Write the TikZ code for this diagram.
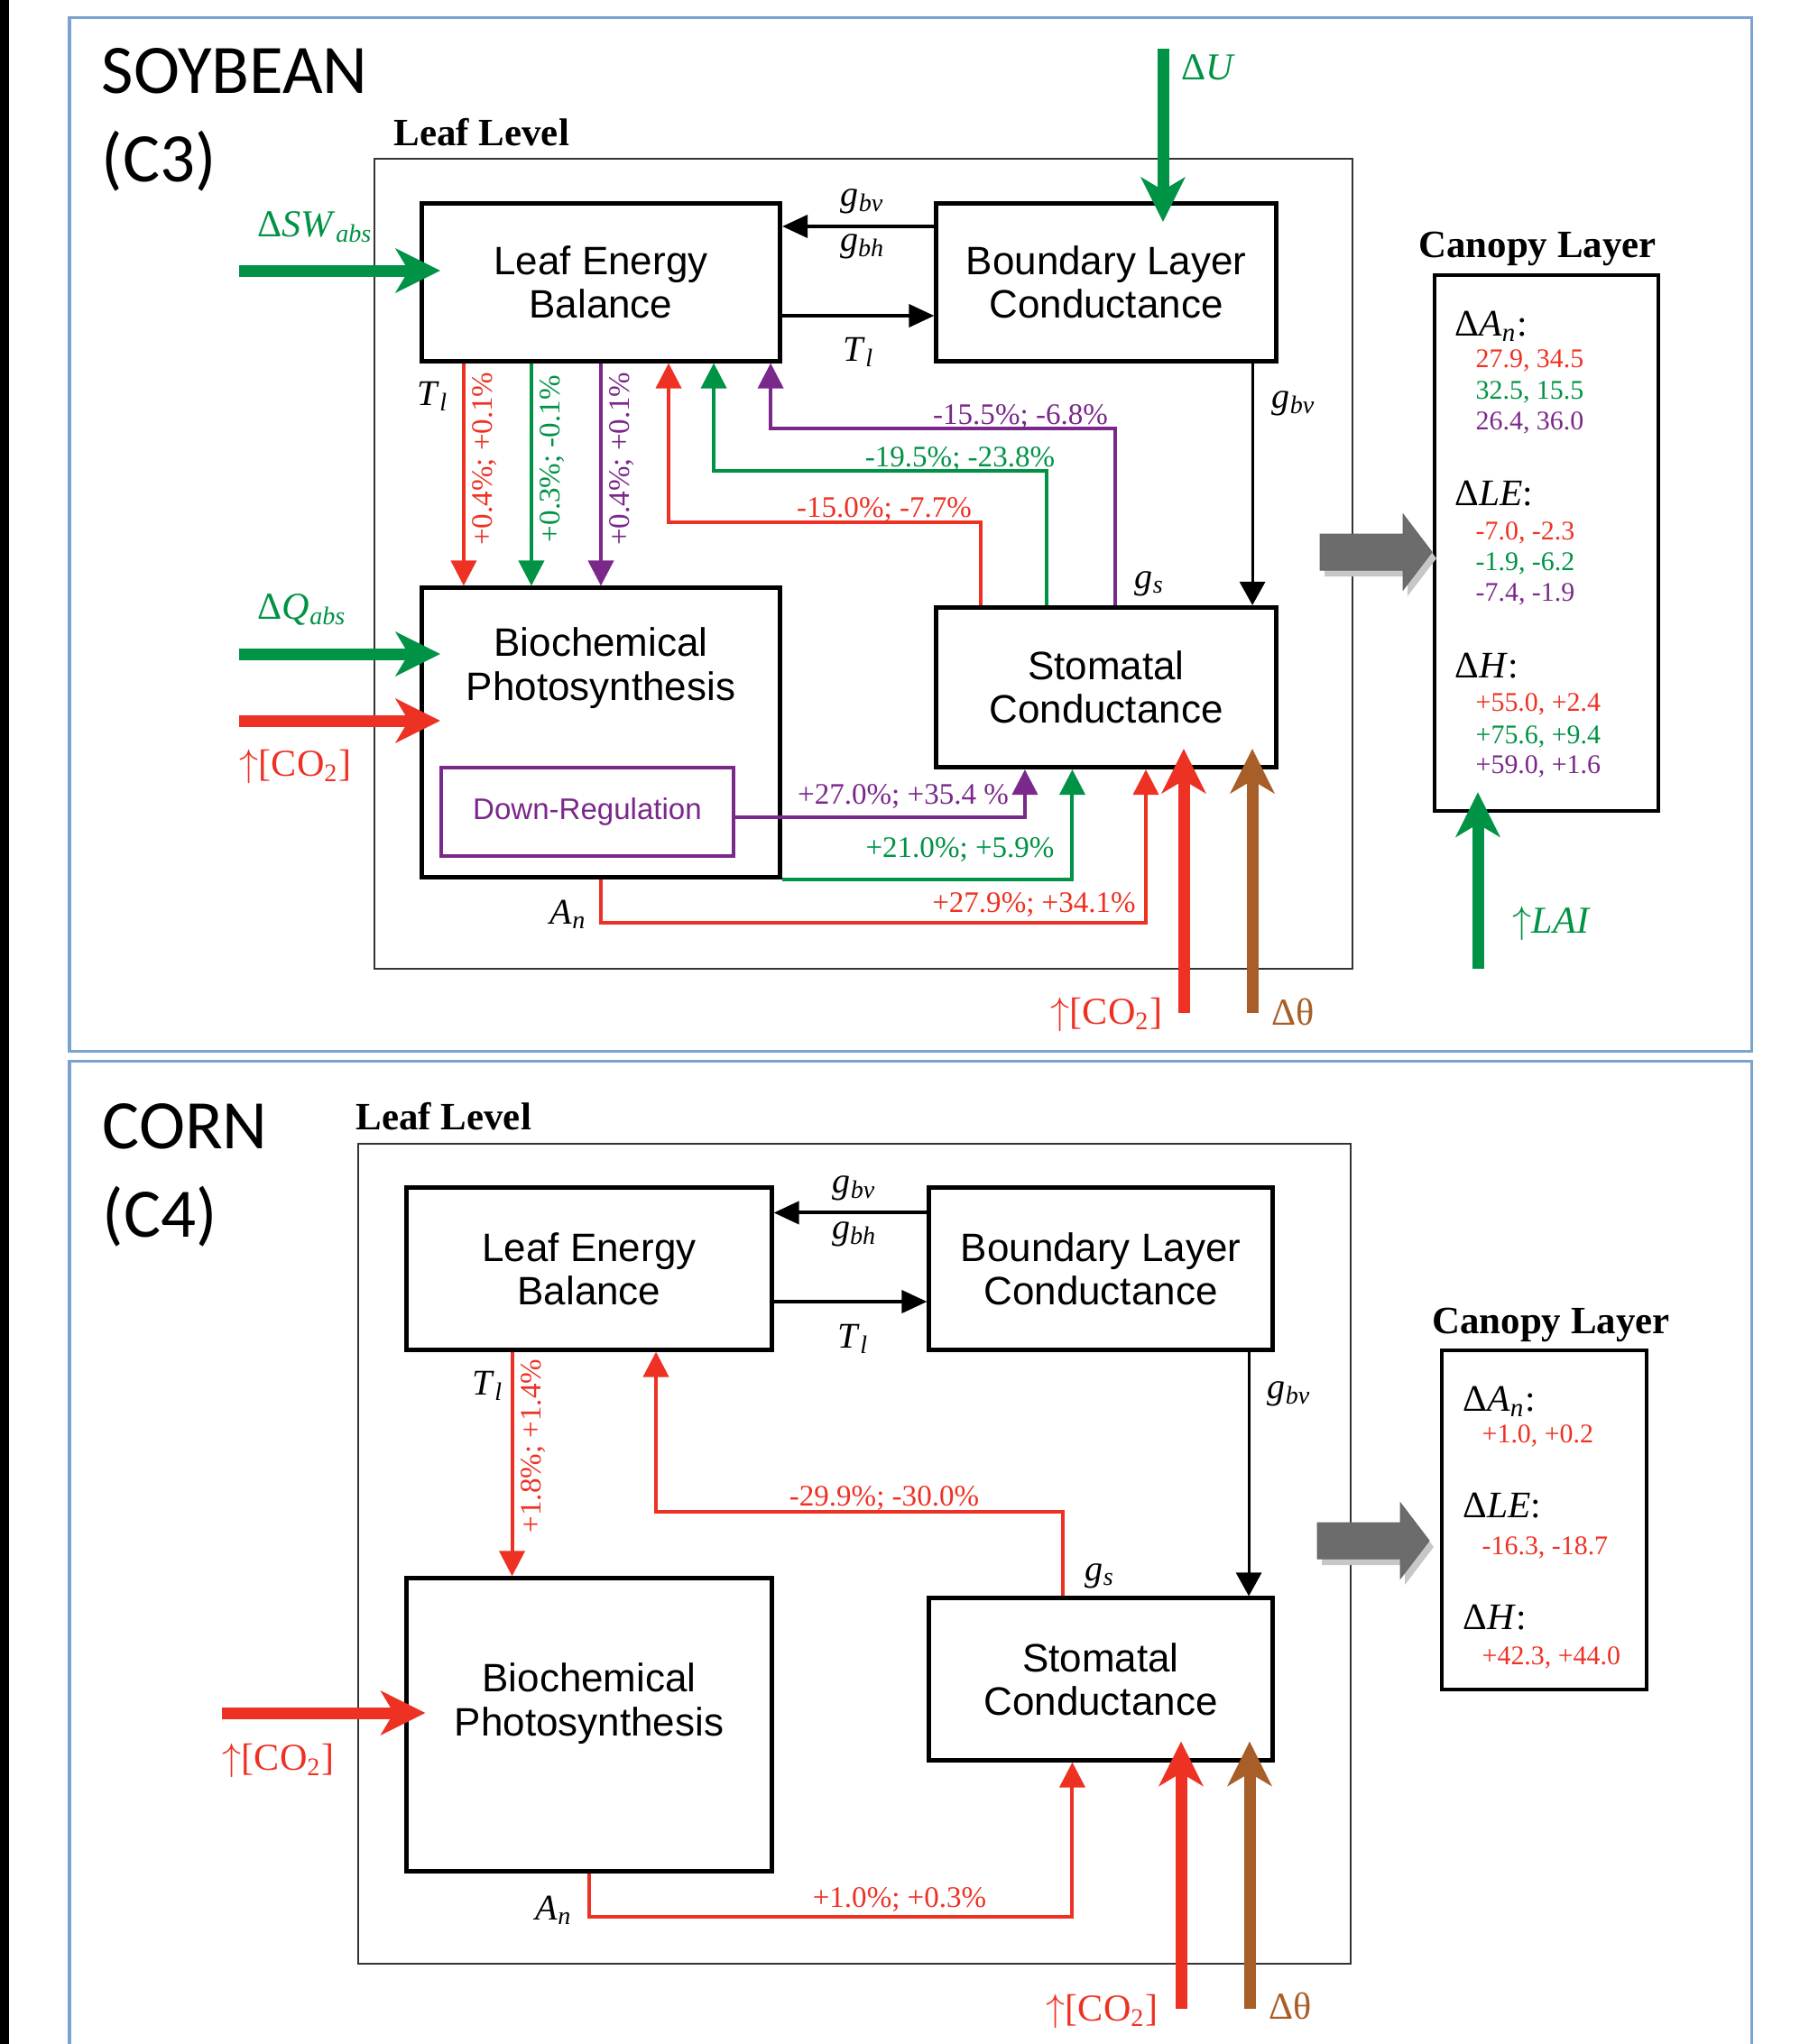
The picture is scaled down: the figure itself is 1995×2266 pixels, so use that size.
\documentclass[tikz,border=0pt]{standalone}
\usepackage{fontspec}
\setmainfont{Liberation Serif}
\newfontfamily\sansf{Liberation Sans}
\newfontfamily\calf{Carlito}
\usetikzlibrary{arrows.meta,positioning,calc}

\definecolor{cred}{RGB}{237,50,36}
\definecolor{cgreen}{RGB}{0,146,69}
\definecolor{cpurple}{RGB}{122,40,138}
\definecolor{cbrown}{RGB}{168,94,40}
\definecolor{cgrey}{RGB}{108,108,108}
\definecolor{cblue}{RGB}{123,163,208}

\newcommand{\vsub}[2]{\textit{#1}\textsubscript{\textit{#2}}}
\newcommand{\upco}{$\uparrow$[CO\textsubscript{2}]}

\begin{document}
\begin{tikzpicture}[x=0.01cm, y=-0.01cm,
    box/.style={draw, line width=0.05cm, inner sep=0pt, align=center, font=\sansf\fontsize{12.5}{13.7}\selectfont},
    boxtxt/.style={inner sep=0pt, align=center, font=\sansf\fontsize{12.5}{13.9}\selectfont},
    canbox/.style={draw, line width=0.045cm, inner sep=0pt},
    title/.style={inner sep=0pt, anchor=base west, font=\calf\fontsize{21.9}{24}\selectfont},
    head/.style={inner sep=0pt, anchor=base, font=\bfseries\fontsize{12.2}{13}\selectfont},
    chead/.style={inner sep=0pt, anchor=base west, font=\fontsize{11.8}{12}\selectfont},
    lbl/.style={inner sep=0pt, anchor=base west, font=\fontsize{11.4}{12}\selectfont},
    inp/.style={inner sep=0pt, anchor=base west, font=\fontsize{12}{13}\selectfont},
    pct/.style={inner sep=0pt, anchor=base, font=\fontsize{9.4}{10}\selectfont},
    rot/.style={pct, rotate=90, anchor=north, inner sep=0.08cm},
    num/.style={inner sep=0pt, anchor=base west, font=\fontsize{8.5}{9}\selectfont},
    arr/.style={line width=0.04cm, -{Triangle[length=0.28cm, width=0.25cm]}},
    varr/.style={line width=0.03cm, -{Triangle[length=0.26cm, width=0.28cm]}},
    farr/.style={line width=0.04cm, -{Triangle[length=0.28cm, width=0.28cm]}},
    bigarr/.style={line width=0.13cm, -{Stealth[length=0.5cm, width=0.5cm, inset=0.15cm, line width=0pt]}, shorten >=-0.23cm},
    blockarrow/.pic={
        \fill[black!22] (5,-13) -- (97,-13) -- (97,-35) -- (129,7) -- (97,49) -- (97,27) -- (5,27) -- cycle;
        \filldraw[fill=cgrey, draw=black!60, line width=0.01cm] (0,-20) -- (92,-20) -- (92,-42) -- (124,0) -- (92,42) -- (92,20) -- (0,20) -- cycle;
    }
]
\useasboundingbox (0,0) rectangle (1995,2266);
\fill (0,0) rectangle (10,2266);

% ---------- soybean panel ----------
\draw[cblue, line width=0.03cm] (77,19) rectangle (1941,1165);
\node[title] (soy) at (112,103) {SOYBEAN};
\node[title] (soyc) at (112,201) {(C3)};
\node[head, anchor=base west] (ll) at (436,161) {Leaf Level};
\draw[line width=0.02cm, black!80] (415,176) rectangle (1499,1074);

\node[box, minimum width=3.97cm, minimum height=1.74cm] (leb) at (666,313) {Leaf Energy\\Balance};
\node[box, minimum width=3.76cm, minimum height=1.75cm] (blc) at (1226,313) {Boundary Layer\\Conductance};
\node[box, minimum width=3.97cm, minimum height=3.20cm] (bp) at (666,812) {};
\node[boxtxt, anchor=north] (bpt) at ([yshift=-0.455cm]bp.north) {Biochemical\\Photosynthesis};
\node[draw=cpurple, line width=0.04cm, minimum width=3.24cm, minimum height=0.98cm, text=cpurple, font=\sansf\fontsize{9.4}{10}\selectfont] (dr) at (651,900) {Down-Regulation};
\node[box, minimum width=3.76cm, minimum height=1.77cm] (sc) at (1226,762) {Stomatal\\Conductance};
\node[canbox, minimum width=2.48cm, minimum height=5.94cm] (can) at (1714,602) {};
\node[head] (canh) at (1704,285) {Canopy Layer};

\node[chead] at (1612,372) {Δ\textit{A}\textsubscript{\textit{n}}:};
\node[num, text=cred] at (1635,407) {27.9, 34.5};
\node[num, text=cgreen] at (1635,442) {32.5, 15.5};
\node[num, text=cpurple] at (1635,476) {26.4, 36.0};
\node[chead] at (1612,560) {Δ\textit{LE}:};
\node[num, text=cred] at (1635,598) {-7.0, -2.3};
\node[num, text=cgreen] at (1635,632) {-1.9, -6.2};
\node[num, text=cpurple] at (1635,666) {-7.4, -1.9};
\node[chead] at (1612,751) {Δ\textit{H}:};
\node[num, text=cred] at (1635,788) {+55.0, +2.4};
\node[num, text=cgreen] at (1635,824) {+75.6, +9.4};
\node[num, text=cpurple] at (1635,857) {+59.0, +1.6};

% conductances and leaf temperature
\draw[arr] ([yshift=0.62cm]blc.west) -- ([yshift=0.62cm]leb.east);
\draw[arr] ([yshift=-0.37cm]leb.east) -- ([yshift=-0.37cm]blc.west);
\node[lbl, anchor=base] at (956,228) {\vsub{g}{bv}};
\node[lbl, anchor=base] at (956,278) {\vsub{g}{bh}};
\node[lbl] at (934,400) {\vsub{T}{l}};
\node[lbl] at (462,449) {\vsub{T}{l}};
\draw[varr] ([xshift=1.62cm]blc.south) -- ([xshift=1.62cm]sc.north);
\node[lbl] at (1409,452) {\vsub{g}{bv}};
\node[lbl] at (1257,652) {\vsub{g}{s}};

% leaf temperature to photosynthesis
\draw[farr, cred] ([xshift=-1.52cm]leb.south) -- node[rot, pos=0.43] {+0.4\%; +0.1\%} ([xshift=-1.52cm]bp.north);
\draw[farr, cgreen] ([xshift=-0.77cm]leb.south) -- node[rot, pos=0.43] {+0.3\%; -0.1\%} ([xshift=-0.77cm]bp.north);
\draw[farr, cpurple] (leb.south) -- node[rot, pos=0.43] {+0.4\%; +0.1\%} (bp.north);

% stomatal feedback to energy balance
\draw[farr, cred] ([xshift=-1.385cm]sc.north) -- ++(0,-92) -| ([xshift=0.75cm]leb.south);
\draw[farr, cgreen] ([xshift=-0.66cm]sc.north) -- ++(0,-149) -| ([xshift=1.25cm]leb.south);
\draw[farr, cpurple] ([xshift=0.10cm]sc.north) -- ++(0,-196) -| ([xshift=1.88cm]leb.south);
\node[pct, text=cred] at (980,573) {-15.0\%; -7.7\%};
\node[pct, text=cgreen] at (1064,517) {-19.5\%; -23.8\%};
\node[pct, text=cpurple] at (1131,470) {-15.5\%; -6.8\%};

% photosynthesis to stomata
\draw[farr, cpurple] ([yshift=-0.06cm]dr.east) -| ([xshift=-0.90cm]sc.south);
\draw[farr, cgreen] (bp.south east) -| ([xshift=-0.375cm]sc.south);
\draw[farr, cred] (bp.south) -- ++(0,48) -| ([xshift=0.44cm]sc.south);
\node[pct, text=cpurple] at (1001,891) {+27.0\%; +35.4 \%};
\node[pct, text=cgreen] at (1064,950) {+21.0\%; +5.9\%};
\node[pct, text=cred] at (1146,1011) {+27.9\%; +34.1\%};
\node[lbl] at (609,1024) {\vsub{A}{n}};

% forcings
\coordinate (swin) at (265,300);
\draw[bigarr, cgreen] (swin) -- (swin -| leb.west);
\node[inp, text=cgreen] at (285,262) {Δ\vsub{SW}{abs}};
\coordinate (qin) at (265,725);
\draw[bigarr, cgreen] (qin) -- (qin -| bp.west);
\node[inp, text=cgreen] at (285,686) {Δ\vsub{Q}{abs}};
\coordinate (cin) at (265,799);
\draw[bigarr, cred] (cin) -- (cin -| bp.west);
\node[inp, text=cred] at (265,860) {\upco};
\coordinate (uin) at (1289,54);
\draw[bigarr, cgreen] (uin) -- (uin |- blc.north);
\node[inp, text=cgreen] at (1309,88) {Δ\textit{U}};
\coordinate (csc) at (1312,1123);
\draw[bigarr, cred] (csc) -- (csc |- sc.south);
\node[inp, text=cred] at (1164,1135) {\upco};
\coordinate (tsc) at (1388,1123);
\draw[bigarr, cbrown] (tsc) -- (tsc |- sc.south);
\node[inp, text=cbrown] at (1409,1136) {Δθ};
\coordinate (lai) at (1638,1074);
\draw[bigarr, cgreen] (lai) -- (lai |- can.south);
\node[inp, text=cgreen] at (1676,1034) {$\uparrow$\textit{LAI}};
\pic at (1463,612) {blockarrow};

% ---------- corn panel ----------
\draw[cblue, line width=0.03cm] (77,2266) -- (77,1176) -- (1941,1176) -- (1941,2266);
\node[title] (corn) at (113,1273) {CORN};
\node[title] (cornc) at (113,1371) {(C4)};
\node[head, anchor=base west] (ll2) at (394,1252) {Leaf Level};
\draw[line width=0.02cm, black!80] (397,1268) rectangle (1497,2177);

\node[box, minimum width=4.04cm, minimum height=1.79cm] (leb2) at (653,1406.5) {Leaf Energy\\Balance};
\node[box, minimum width=3.80cm, minimum height=1.79cm] (blc2) at (1220,1406.5) {Boundary Layer\\Conductance};
\node[box, minimum width=4.04cm, minimum height=3.24cm] (bp2) at (653,1912) {};
\node[boxtxt, anchor=north] (bpt2) at ([yshift=-0.955cm]bp2.north) {Biochemical\\Photosynthesis};
\node[box, minimum width=3.80cm, minimum height=1.79cm] (sc2) at (1220,1861.5) {Stomatal\\Conductance};
\node[canbox, minimum width=2.27cm, minimum height=3.76cm] (can2) at (1711.5,1685) {};
\node[head] (canh2) at (1719,1478) {Canopy Layer};

\node[chead] at (1621,1564) {Δ\textit{A}\textsubscript{\textit{n}}:};
\node[num, text=cred] at (1642,1599) {+1.0, +0.2};
\node[chead] at (1621,1682) {Δ\textit{LE}:};
\node[num, text=cred] at (1642,1723) {-16.3, -18.7};
\node[chead] at (1621,1806) {Δ\textit{H}:};
\node[num, text=cred] at (1642,1845) {+42.3, +44.0};

\draw[arr] ([yshift=0.62cm]blc2.west) -- ([yshift=0.62cm]leb2.east);
\draw[arr] ([yshift=-0.365cm]leb2.east) -- ([yshift=-0.365cm]blc2.west);
\node[lbl, anchor=base] at (947,1322) {\vsub{g}{bv}};
\node[lbl, anchor=base] at (947,1373) {\vsub{g}{bh}};
\node[lbl] at (928,1494) {\vsub{T}{l}};
\node[lbl] at (523,1546) {\vsub{T}{l}};
\draw[varr] ([xshift=1.64cm]blc2.south) -- ([xshift=1.64cm]sc2.north);
\node[lbl] at (1404,1550) {\vsub{g}{bv}};
\node[lbl] at (1202,1752) {\vsub{g}{s}};

\draw[farr, cred] ([xshift=-0.854cm]leb2.south) -- node[rot, pos=0.42] {+1.8\%; +1.4\%} ([xshift=-0.854cm]bp2.north);
\draw[farr, cred] ([xshift=-0.42cm]sc2.north) -- ++(0,-93) -| ([xshift=0.74cm]leb2.south);
\node[pct, text=cred] at (980,1669) {-29.9\%; -30.0\%};
\draw[farr, cred] (bp2.south) -- ++(0,48) -| ([xshift=-0.315cm]sc2.south);
\node[pct, text=cred] at (997,2114) {+1.0\%; +0.3\%};
\node[lbl] at (593,2128) {\vsub{A}{n}};

\coordinate (cin2) at (246,1899);
\draw[bigarr, cred] (cin2) -- (cin2 -| bp2.west);
\node[inp, text=cred] at (246,1962) {\upco};
\coordinate (csc2) at (1309,2227);
\draw[bigarr, cred] (csc2) -- (csc2 |- sc2.south);
\node[inp, text=cred] at (1159,2240) {\upco};
\coordinate (tsc2) at (1385,2227);
\draw[bigarr, cbrown] (tsc2) -- (tsc2 |- sc2.south);
\node[inp, text=cbrown] at (1406,2238) {Δθ};
\pic at (1460,1708) {blockarrow};
\end{tikzpicture}
\end{document}
